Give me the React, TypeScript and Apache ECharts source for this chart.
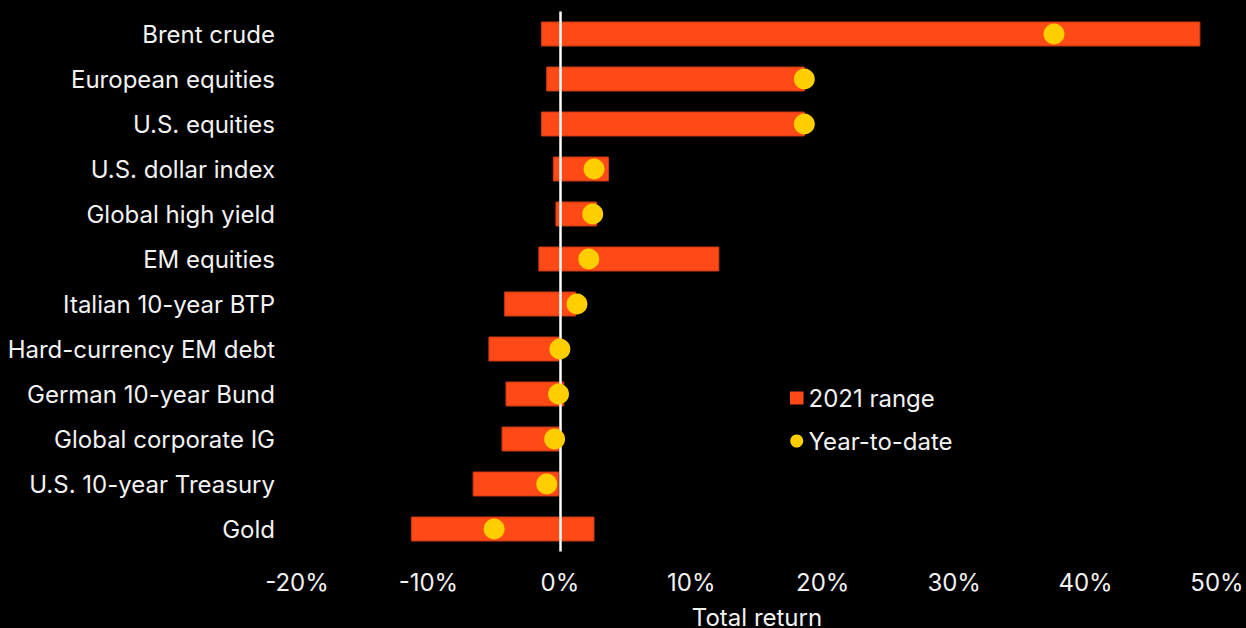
import React, { useEffect, useRef } from "react";
import * as echarts from "echarts";

const categories = [
  "Brent crude",
  "European equities",
  "U.S. equities",
  "U.S. dollar index",
  "Global high yield",
  "EM equities",
  "Italian 10-year BTP",
  "Hard-currency EM debt",
  "German 10-year Bund",
  "Global corporate IG",
  "U.S. 10-year Treasury",
  "Gold",
];
const rangeLow = [-1.4, -1.0, -1.4, -0.5, -0.3, -1.6, -4.2, -5.4, -4.1, -4.4, -6.6, -11.3];
const rangeHigh = [48.7, 18.6, 18.6, 3.7, 2.8, 12.1, 1.2, 0.0, 0.3, 0.0, -0.1, 2.6];
const ytd = [37.6, 18.6, 18.6, 2.6, 2.5, 2.2, 1.3, 0.0, -0.1, -0.4, -1.0, -5.0];
const xTicks = [-20, -10, 0, 10, 20, 30, 40, 50];

const RANGE_COLOR = "#FF4A17";
const DOT_COLOR = "#FFCE00";
const TEXT_COLOR = "#F2F2F2";
const FONT = "Inter, 'Noto Sans', sans-serif";
const FS = 24;

export default function App() {
  const ref = useRef<HTMLDivElement>(null);
  useEffect(() => {
    if (!ref.current) return;
    const chart = echarts.init(ref.current, null, { renderer: "svg" });
    const rangeData = categories.map((c, i) => [i, rangeLow[i], rangeHigh[i]]);
    const ytdData = categories.map((c, i) => [ytd[i], i]);
    chart.setOption({
      animation: false,
      backgroundColor: "#000000",
      textStyle: { fontFamily: FONT },
      grid: {
        left: 297,
        right: 29,
        top: 11.5,
        bottom: 76.5,
        containLabel: false,
        outerBoundsMode: "none",
      },
      legend: {
        orient: "vertical",
        left: 785,
        top: 379,
        itemWidth: 13.5,
        itemHeight: 13,
        itemGap: 15,
        textStyle: { color: TEXT_COLOR, fontSize: FS, fontFamily: FONT, lineHeight: 28 },
        data: [
          { name: "2021 range", icon: "rect", itemStyle: { color: RANGE_COLOR } },
          { name: "Year-to-date", icon: "circle", itemStyle: { color: DOT_COLOR } },
        ],
      },
      xAxis: {
        type: "value",
        min: xTicks[0],
        max: xTicks[xTicks.length - 1],
        interval: 10,
        splitLine: { show: false },
        axisLine: { show: false },
        axisTick: { show: false },
        axisLabel: {
          color: TEXT_COLOR,
          fontSize: FS,
          fontFamily: FONT,
          margin: 19,
          formatter: (v: number) => `${v}%`,
        },
        name: "Total return",
        nameLocation: "middle",
        nameGap: 54,
        nameTextStyle: { color: TEXT_COLOR, fontSize: FS, fontFamily: FONT },
      },
      yAxis: {
        type: "category",
        data: categories,
        inverse: true,
        axisLine: { show: false },
        axisTick: { show: false },
        splitLine: { show: false },
        axisLabel: { color: TEXT_COLOR, fontSize: FS, fontFamily: FONT, margin: 22 },
      },
      series: [
        {
          name: "2021 range",
          type: "custom",
          itemStyle: { color: RANGE_COLOR },
          encode: { y: 0, x: [1, 2] },
          data: rangeData,
          renderItem: (params: any, api: any) => {
            const idx = api.value(0);
            const p1 = api.coord([api.value(1), idx]);
            const p2 = api.coord([api.value(2), idx]);
            const h = 24;
            return {
              type: "rect",
              shape: { x: p1[0], y: p1[1] - h / 2, width: p2[0] - p1[0], height: h },
              style: { fill: RANGE_COLOR, stroke: "#C8380F", lineWidth: 1 },
            };
          },
          z: 2,
          markLine: {
            silent: true,
            symbol: "none",
            label: { show: false },
            lineStyle: { color: "#FFFFFF", width: 2.5, type: "solid" },
            data: [{ xAxis: 0 }],
            z: 3,
          },
        },
        {
          name: "Year-to-date",
          type: "scatter",
          data: ytdData,
          symbol: "circle",
          symbolSize: 21,
          itemStyle: { color: DOT_COLOR, opacity: 1 },
          z: 4,
        },
      ],
    });
    return () => chart.dispose();
  }, []);
  return <div ref={ref} style={{ width: 1246, height: 628, position: "absolute", left: 0, top: 0 }} />;
}
